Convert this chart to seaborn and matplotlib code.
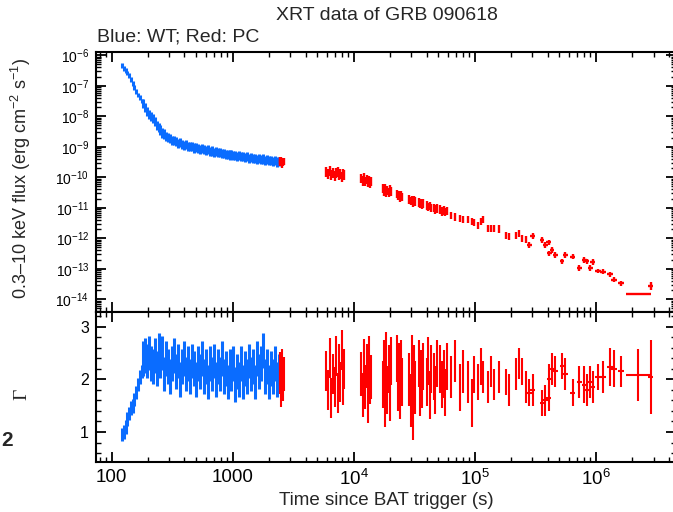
import numpy as np
import matplotlib
matplotlib.use("Agg")
import matplotlib.pyplot as plt
import matplotlib.ticker as mticker
import seaborn as sns

# ==============================
# DATA
# ==============================
# WT mode: time (s), log10 flux, photon index
wt_time = [123, 127, 131, 135, 139, 144, 149, 154, 159, 165, 171, 177, 183, 190, 197,
           204, 211, 219, 227, 235, 244, 253, 262, 272, 282, 293, 304, 315, 327, 340,
           353, 366, 380, 395, 410, 426, 442, 459, 477, 495, 514, 534, 555, 576, 598,
           621, 645, 670, 696, 723, 751, 780, 810, 841, 873, 907, 942, 978, 1016, 1055,
           1096, 1138, 1182, 1228, 1275, 1324, 1375, 1428, 1483, 1540, 1600, 1662, 1726,
           1792, 1861, 1933, 2007, 2084, 2164, 2247, 2333, 2420]
wt_logflux = [-6.33, -6.42, -6.50, -6.58, -6.66, -6.80, -6.92, -7.05, -7.18, -7.30, -7.38,
              -7.50, -7.58, -7.72, -7.85, -7.95, -8.02, -8.08, -8.16, -8.30, -8.38, -8.45,
              -8.55, -8.58, -8.66, -8.70, -8.72, -8.80, -8.78, -8.84, -8.88, -8.86, -8.92,
              -8.95, -8.93, -8.99, -9.00, -8.98, -9.04, -9.02, -9.06, -9.08, -9.05, -9.10,
              -9.12, -9.09, -9.15, -9.14, -9.18, -9.16, -9.20, -9.19, -9.23, -9.21, -9.25,
              -9.24, -9.27, -9.25, -9.29, -9.28, -9.31, -9.29, -9.33, -9.32, -9.35, -9.33,
              -9.37, -9.36, -9.39, -9.37, -9.41, -9.39, -9.43, -9.40, -9.44, -9.42, -9.46,
              -9.44, -9.48, -9.46, -9.50, -9.48]
wt_gamma = [0.95, 1.00, 1.10, 1.25, 1.35, 1.45, 1.50, 1.62, 1.75, 1.90, 2.05, 2.15, 2.40,
            2.45, 2.35, 2.50, 2.30, 2.25, 2.45, 2.20, 2.55, 2.35, 2.50, 2.10, 2.40, 2.25,
            2.05, 2.30, 2.45, 2.15, 2.35, 2.00, 2.25, 2.40, 2.10, 2.30, 2.05, 2.35, 2.20,
            2.00, 2.30, 2.15, 2.40, 2.05, 2.25, 1.95, 2.30, 2.10, 2.35, 2.00, 2.25, 2.10,
            2.40, 2.05, 2.20, 1.95, 2.25, 2.10, 2.30, 1.90, 2.15, 2.00, 2.30, 1.95, 2.20,
            2.05, 2.35, 2.10, 2.25, 1.95, 2.40, 2.15, 2.30, 2.55, 2.05, 2.25, 1.95, 2.20,
            2.05, 2.30, 2.00, 2.15]
wt_flux_err = [0.08] * 12 + [0.15] * 70          # dex
wt_gamma_err = [0.13] * 12 + [0.33] * 70

# PC mode: time (s), log10 flux, photon index, with errors
pc_time = ([2440, 2480, 2520, 2560, 2600, 2640]
           + [5950, 6150, 6350, 6550, 6750, 6950, 7150, 7350, 7550, 7750, 7950, 8150, 8350]
           + [11600, 11900, 12200, 12500, 12800, 13100, 13400, 13700, 14000]
           + [17400, 17800, 18200, 18600, 19000, 19400, 19800, 20200]
           + [22800, 23300, 23800, 24300, 24800, 25300]
           + [28900, 29500, 30100, 30700, 31300, 31900]
           + [34500, 35300, 36100, 36900, 37700]
           + [40400, 41400, 42400, 43400]
           + [45700, 47000, 48500]
           + [51800, 53500, 55300, 57200, 59200]
           + [63800, 69300, 75800, 79700, 87500, 94400, 99500, 106000, 113000, 118000,
              128000, 136000, 145000, 160000, 182000, 193000, 220000, 234000, 246000,
              265000, 283000, 301000, 360000, 383000, 408000, 413000, 435000, 463000,
              526000, 560000, 644000, 731000, 804000, 846000, 901000, 942000,
              1.05e6, 1.14e6, 1.32e6, 1.42e6, 1.61e6, 2.25e6, 2.85e6])
pc_logflux = ([-9.45, -9.52, -9.47, -9.56, -9.50, -9.48]
              + [-9.82, -9.90, -9.80, -9.92, -9.85, -9.96, -9.86, -9.82, -9.94, -9.88, -9.98, -9.90, -9.93]
              + [-10.05, -10.12, -10.02, -10.15, -10.08, -10.18, -10.10, -10.20, -10.13]
              + [-10.38, -10.45, -10.36, -10.48, -10.42, -10.50, -10.40, -10.46]
              + [-10.55, -10.62, -10.58, -10.66, -10.60, -10.64]
              + [-10.72, -10.78, -10.74, -10.82, -10.76, -10.80]
              + [-10.82, -10.88, -10.84, -10.90, -10.86]
              + [-10.92, -10.98, -10.94, -11.00]
              + [-11.00, -11.06, -11.02]
              + [-11.06, -11.12, -11.08, -11.14, -11.10]
              + [-11.25, -11.30, -11.34, -11.38, -11.38, -11.46, -11.48, -11.57, -11.46, -11.39,
                 -11.68, -11.68, -11.68, -11.70, -11.90, -11.95, -11.90, -11.84, -12.00,
                 -12.05, -12.22, -11.92, -12.05, -12.22, -12.13, -12.49, -12.38, -12.54,
                 -12.76, -12.54, -12.60, -12.98, -12.71, -12.76, -12.98, -12.78,
                 -13.07, -13.10, -13.18, -13.36, -13.48, -13.82, -13.55])
pc_flux_err = ([0.12] * 6 + [0.16] * 13 + [0.15] * 9 + [0.15] * 8 + [0.14] * 6 + [0.14] * 6
               + [0.14] * 5 + [0.14] * 4 + [0.14] * 3 + [0.14] * 5
               + [0.12] * 20 + [0.09] * 16 + [0.08] * 5 + [0.0, 0.13])
pc_time_err = ([0.0] * 65 + [0.0] * 20
               + [0.02] * 16 + [0.025] * 5 + [0.10, 0.02])   # dex half-width
pc_gamma = ([2.05, 2.20, 1.80, 2.25, 1.90, 2.10]
            + [2.15, 1.80, 2.40, 1.65, 2.10, 1.85, 2.45, 1.75, 2.30, 1.95, 2.55, 1.90, 2.20]
            + [2.10, 1.70, 2.35, 1.85, 2.25, 1.60, 2.40, 1.95, 2.05]
            + [1.90, 2.30, 1.55, 2.45, 1.80, 2.20, 1.65, 2.35]
            + [2.40, 1.85, 2.25, 1.70, 2.30, 1.95]
            + [2.00, 1.60, 2.35, 1.35, 2.15, 1.85]
            + [2.30, 1.75, 2.10, 1.90, 2.25]
            + [1.95, 2.35, 1.70, 2.20]
            + [2.05, 1.80, 2.30]
            + [2.20, 1.90, 2.10, 1.75, 2.25]
            + [2.05, 2.35, 1.85, 2.15, 1.95, 1.55, 2.10, 1.95, 2.25, 2.05,
               1.85, 2.15, 1.90, 2.05, 1.95, 1.80, 2.10, 2.30, 2.15,
               1.85, 1.75, 1.80, 1.55, 1.60, 1.65, 2.00, 2.20, 2.15,
               2.25, 2.10, 1.75, 1.95, 1.90, 1.80, 1.95, 1.85,
               2.05, 2.05, 2.23, 2.20, 2.15, 2.08, 2.04])
pc_gamma_err = ([0.32] * 6 + [0.38] * 13 + [0.42] * 9 + [0.45] * 8 + [0.45] * 6 + [0.50] * 6
                + [0.45] * 5 + [0.45] * 4 + [0.45] * 3 + [0.45] * 5
                + [0.40, 0.40, 0.45, 0.40, 0.40, 0.45, 0.35, 0.35, 0.35, 0.30,
                   0.30, 0.30, 0.30, 0.30, 0.25, 0.30, 0.30, 0.30, 0.25,
                   0.30, 0.25, 0.30, 0.25, 0.30, 0.25, 0.30, 0.30, 0.30,
                   0.25, 0.30, 0.25, 0.30, 0.35, 0.30, 0.30, 0.30,
                   0.25, 0.30, 0.36, 0.35, 0.30, 0.50, 0.70])

TITLE = "XRT data of GRB 090618"
SUBTITLE = "Blue: WT; Red: PC"
X_TICKS = [100, 1000, 1e4, 1e5, 1e6]
X_TICK_LABELS = ["100", "1000", "$10^4$", "$10^5$", "$10^6$"]

BLUE = "#0a6cff"
RED = "#ff0000"

# ==============================
# STYLE
# ==============================
sns.set_theme(style="ticks")
plt.rcParams["font.family"] = ["Liberation Sans", "DejaVu Sans"]
plt.rcParams["mathtext.fontset"] = "custom"
plt.rcParams["mathtext.rm"] = "Liberation Sans"
plt.rcParams["mathtext.it"] = "Liberation Sans:italic"
plt.rcParams["mathtext.bf"] = "Liberation Sans:bold"


def flux_err(logf, err):
    logf = np.asarray(logf)
    err = np.asarray(err)
    f = 10 ** logf
    return f, [f - 10 ** (logf - err), 10 ** (logf + err) - f]


def time_err(t, err):
    t = np.asarray(t, dtype=float)
    err = np.asarray(err)
    return [t - t * 10 ** (-err), t * 10 ** err - t]


def style_axis(ax):
    for s in ax.spines.values():
        s.set_linewidth(1.5)
        s.set_color("black")
    ax.tick_params(which="both", direction="in", top=True, right=True,
                   colors="black", labelsize=10)
    ax.tick_params(which="major", length=7, width=1.3, pad=5)
    ax.tick_params(which="minor", length=3.5, width=1.0)


W, H = 673, 512
fig = plt.figure(figsize=(W / 100, H / 100), dpi=100)
left, right = 96, 676
ax1 = fig.add_axes([left / W, 1 - 312 / H, (right - left) / W, (312 - 52) / H])
ax2 = fig.add_axes([left / W, 1 - 462 / H, (right - left) / W, (462 - 312) / H], sharex=ax1)

# ---- flux panel
f, ferr = flux_err(wt_logflux, wt_flux_err)
ax1.errorbar(wt_time, f, yerr=ferr, fmt="none", ecolor=BLUE, elinewidth=2.2)
f, ferr = flux_err(pc_logflux, pc_flux_err)
ax1.errorbar(pc_time, f, yerr=ferr, xerr=time_err(pc_time, pc_time_err),
             fmt="none", ecolor=RED, elinewidth=1.7)
ax1.set_xscale("log")
ax1.set_yscale("log")
ax1.set_xlim(74.3, 4.6e6)
ax1.set_ylim(10 ** -14.416, 10 ** -5.892)
ax1.yaxis.set_major_locator(mticker.LogLocator(base=10, numticks=20))
ax1.yaxis.set_minor_locator(mticker.LogLocator(base=10, subs=np.arange(2, 10), numticks=20))
ax1.yaxis.set_minor_formatter(mticker.NullFormatter())
ax1.set_ylabel("0.3–10 keV flux (erg cm$^{-2}$ s$^{-1}$)", fontsize=13)
ax1.yaxis.set_label_coords(-0.108, 0.515)
style_axis(ax1)
ax1.tick_params(labelbottom=False)

# ---- photon index panel
ax2.errorbar(wt_time, wt_gamma, yerr=wt_gamma_err, fmt="none", ecolor=BLUE, elinewidth=2.2)
ax2.errorbar(pc_time, pc_gamma, yerr=pc_gamma_err, xerr=time_err(pc_time, pc_time_err),
             fmt="none", ecolor=RED, elinewidth=1.5)
ax2.set_ylim(0.43, 3.28)
ax2.yaxis.set_major_locator(mticker.MultipleLocator(1))
ax2.yaxis.set_minor_locator(mticker.MultipleLocator(0.2))
ax2.set_ylabel("Γ", fontsize=14, family=["Liberation Serif", "DejaVu Serif"])
ax2.yaxis.set_label_coords(-0.113, 0.45)
ax2.xaxis.set_major_locator(mticker.FixedLocator(X_TICKS))
ax2.xaxis.set_major_formatter(mticker.FixedFormatter(X_TICK_LABELS))
ax2.xaxis.set_minor_locator(mticker.LogLocator(base=10, subs=np.arange(2, 10), numticks=20))
ax2.xaxis.set_minor_formatter(mticker.NullFormatter())
ax2.set_xlabel("Time since BAT trigger (s)", fontsize=13.5, labelpad=2)
style_axis(ax2)
ax2.tick_params(labelsize=13.5, axis="x")
ax2.tick_params(labelsize=11.5, axis="y")

fig.text(387 / W, 1 - 16 / H, TITLE, ha="center", va="center", fontsize=14)
fig.text(97 / W, 1 - 37 / H, SUBTITLE, ha="left", va="center", fontsize=14)
fig.text(1 / W, 1 - 440 / H, "2", ha="left", va="center", fontsize=15, fontweight="bold")

fig.savefig("out.png", dpi=100)
